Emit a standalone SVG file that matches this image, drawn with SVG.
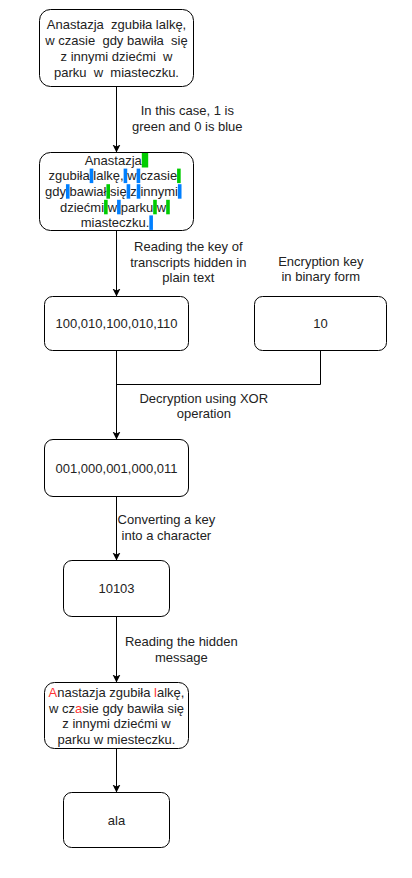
<svg xmlns="http://www.w3.org/2000/svg" width="412" height="878" viewBox="0 0 412 878">
<style>
text{font-family:"Liberation Sans",Arial,sans-serif;font-size:13px;fill:#222;}
.c{text-anchor:middle;}
.box{fill:#fff;stroke:#000;stroke-width:1;}
.ln{fill:none;stroke:#000;stroke-width:1;}
.g{fill:#00CC00;}
.b{fill:#007FFF;}
.r{fill:#FF3333;}
</style>
<defs>
<marker id="arr" markerWidth="10" markerHeight="10" refX="8" refY="4" orient="auto" markerUnits="userSpaceOnUse">
<path d="M0,0 L8,4 L0,8 L2,4 z" fill="#000"/>
</marker>
</defs>
<rect width="412" height="878" fill="#fff"/>
<g id="connectors">
<path class="ln" d="M116.5 86.5 V152.5" marker-end="url(#arr)"/>
<path class="ln" d="M116.5 230.5 V296.5" marker-end="url(#arr)"/>
<path class="ln" d="M116.5 350.5 V439.5" marker-end="url(#arr)"/>
<path class="ln" d="M320.5 350.5 V384.5 H116.5"/>
<path class="ln" d="M116.5 496.5 V560.5" marker-end="url(#arr)"/>
<path class="ln" d="M116.5 616.5 V682.5" marker-end="url(#arr)"/>
<path class="ln" d="M116.5 748.5 V792.5" marker-end="url(#arr)"/>
<text class="c" x="187.3" y="115.2">In this case, 1 is</text>
<text class="c" x="187.3" y="130.8">green and 0 is blue</text>
<text class="c" x="188.3" y="251">Reading the key of</text>
<text class="c" x="188.3" y="266.6">transcripts hidden in</text>
<text class="c" x="188.3" y="282.2">plain text</text>
<text class="c" x="320.8" y="265.5">Encryption key</text>
<text class="c" x="320.8" y="281.1">in binary form</text>
<text class="c" x="203.8" y="402.5">Decryption using XOR</text>
<text class="c" x="203.8" y="418.1">operation</text>
<text class="c" x="166.4" y="524.3">Converting a key</text>
<text class="c" x="166.4" y="539.9">into a character</text>
<text class="c" x="181.3" y="646">Reading the hidden</text>
<text class="c" x="181.3" y="661.6">message</text>
</g>
<g id="node1">
<rect class="box" x="39.5" y="9.5" width="154" height="77" rx="11" ry="11"/>
<text class="c" xml:space="preserve" x="116.5" y="29.2">Anastazja  zgubiła lalkę,</text>
<text class="c" xml:space="preserve" x="116.5" y="45">w czasie  gdy bawiła  się</text>
<text class="c" xml:space="preserve" x="116.5" y="60.8">z innymi dziećmi  w</text>
<text class="c" xml:space="preserve" x="116.5" y="76.6">parku  w  miasteczku.</text>
</g>
<g id="node2">
<rect class="box" x="39.5" y="152.5" width="154" height="78" rx="11" ry="11"/>
<rect class="g" x="141.8" y="153" width="6.4" height="14.5"/>
<rect class="b" x="89.68" y="168.6" width="3.6" height="14.5"/>
<rect class="b" x="123.63" y="168.6" width="3.6" height="14.5"/>
<rect class="b" x="136.63" y="168.6" width="3.6" height="14.5"/>
<rect class="g" x="177.08" y="168.6" width="3.6" height="14.5"/>
<rect class="b" x="65.96" y="184.2" width="3.6" height="14.5"/>
<rect class="g" x="106.41" y="184.2" width="3.6" height="14.5"/>
<rect class="b" x="126.63" y="184.2" width="3.6" height="14.5"/>
<rect class="b" x="136.74" y="184.2" width="3.6" height="14.5"/>
<rect class="b" x="177.91" y="184.2" width="3.6" height="14.5"/>
<rect class="g" x="104.06" y="199.8" width="3.6" height="14.5"/>
<rect class="b" x="117.06" y="199.8" width="3.6" height="14.5"/>
<rect class="g" x="153.18" y="199.8" width="3.6" height="14.5"/>
<rect class="g" x="166.18" y="199.8" width="3.6" height="14.5"/>
<rect class="b" x="149.33" y="215.4" width="3.6" height="14.5"/>
<text x="84.7" y="164.8">Anastazja</text>
<text x="48.5" y="180.4">zgubiła lalkę, w czasie</text>
<text x="45" y="196">gdy bawiał się z innymi</text>
<text x="60" y="211.6">dziećmi w parku w</text>
<text x="80.7" y="227.2">miasteczku.</text>
</g>
<g id="node3">
<rect class="box" x="44.5" y="296.5" width="144" height="54" rx="8" ry="8"/>
<text class="c" x="116.5" y="328.3">100,010,100,010,110</text>
</g>
<g id="node4">
<rect class="box" x="254.5" y="296.5" width="132" height="54" rx="8" ry="8"/>
<text class="c" x="320.5" y="328.3">10</text>
</g>
<g id="node5">
<rect class="box" x="44.5" y="439.5" width="144" height="57" rx="8.5" ry="8.5"/>
<text class="c" x="116.5" y="472.7">001,000,001,000,011</text>
</g>
<g id="node6">
<rect class="box" x="63.5" y="560.5" width="106" height="56" rx="8.4" ry="8.4"/>
<text class="c" x="116.5" y="593.2">10103</text>
</g>
<g id="node7">
<rect class="box" x="44.5" y="682.5" width="144" height="66" rx="9.9" ry="9.9"/>
<text class="c" x="116.5" y="697.1"><tspan class="r">A</tspan>nastazja zgubiła <tspan class="r">l</tspan>alkę,</text>
<text class="c" x="116.5" y="712.7">w cz<tspan class="r">a</tspan>sie gdy bawiła się</text>
<text class="c" x="116.5" y="728.3">z innymi dziećmi w</text>
<text class="c" x="116.5" y="743.9">parku w miesteczku.</text>
</g>
<g id="node8">
<rect class="box" x="63.5" y="792.5" width="106" height="55" rx="8.2" ry="8.2"/>
<text class="c" x="116.5" y="824.7">ala</text>
</g>
</svg>
